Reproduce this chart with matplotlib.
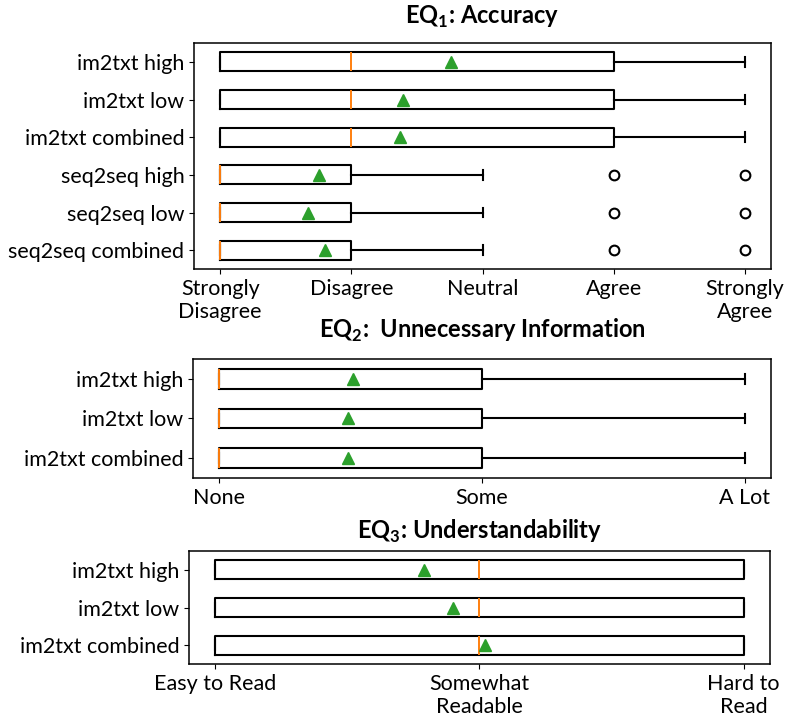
import matplotlib
matplotlib.use('Agg')
import matplotlib.pyplot as plt

plt.rcParams['font.family'] = ['Lato', 'DejaVu Sans']
plt.rcParams['mathtext.fontset'] = 'custom'
plt.rcParams['mathtext.rm'] = 'Lato'
plt.rcParams['mathtext.bf'] = 'Lato:bold'

# EQ1 - accuracy (rows top to bottom)
eq1_rows = ['im2txt high', 'im2txt low', 'im2txt combined',
            'seq2seq high', 'seq2seq low', 'seq2seq combined']
eq1_q1 = [1, 1, 1, 1, 1, 1]
eq1_med = [2, 2, 2, 1, 1, 1]
eq1_q3 = [4, 4, 4, 2, 2, 2]
eq1_lo = [1, 1, 1, 1, 1, 1]
eq1_hi = [5, 5, 5, 3, 3, 3]
eq1_mean = [2.76, 2.39, 2.37, 1.75, 1.67, 1.80]
eq1_fliers = [[], [], [], [4, 5], [4, 5], [4, 5]]
eq1_ticks = ['Strongly\nDisagree', 'Disagree', 'Neutral', 'Agree', 'Strongly\nAgree']

# EQ2 - unnecessary information
eq2_rows = ['im2txt high', 'im2txt low', 'im2txt combined']
eq2_q1 = [1, 1, 1]
eq2_med = [1, 1, 1]
eq2_q3 = [2, 2, 2]
eq2_lo = [1, 1, 1]
eq2_hi = [3, 3, 3]
eq2_mean = [1.51, 1.49, 1.49]
eq2_ticks = ['None', 'Some', 'A Lot']

# EQ3 - understandability
eq3_rows = ['im2txt high', 'im2txt low', 'im2txt combined']
eq3_q1 = [1, 1, 1]
eq3_med = [2, 2, 2]
eq3_q3 = [3, 3, 3]
eq3_lo = [1, 1, 1]
eq3_hi = [3, 3, 3]
eq3_mean = [1.79, 1.90, 2.02]
eq3_ticks = ['Easy to Read', 'Somewhat\nReadable', 'Hard to\nRead']


def make_stats(rows, q1, med, q3, lo, hi, mean, fliers=None):
    stats = []
    for i in range(len(rows)):
        stats.append({'label': rows[i], 'q1': q1[i], 'med': med[i], 'q3': q3[i],
                      'whislo': lo[i], 'whishi': hi[i], 'mean': mean[i],
                      'fliers': fliers[i] if fliers else []})
    # bottom row first so the first row ends on top
    return stats[::-1]


def draw(ax, stats, ticks, title, pad):
    ax.bxp(stats, vert=False, showmeans=True, widths=0.5,
           meanprops=dict(marker='^', markerfacecolor='#2ca02c',
                          markeredgecolor='#2ca02c', markersize=9),
           medianprops=dict(color='#ff7f0e', linewidth=1.4),
           boxprops=dict(linewidth=1.5), whiskerprops=dict(linewidth=1.5),
           capprops=dict(linewidth=1.5),
           flierprops=dict(marker='o', markersize=7, markeredgewidth=1.5))
    ax.set_xticks(range(1, len(ticks) + 1))
    ax.set_xticklabels(ticks)
    ax.set_xlim(1 - 0.05 * (len(ticks) - 1), len(ticks) + 0.05 * (len(ticks) - 1))
    ax.tick_params(labelsize=15.5)
    for s in ax.spines.values():
        s.set_linewidth(1.1)
    ax.set_title(title, fontsize=17, fontweight='bold', pad=pad)


fig = plt.figure(figsize=(7.89, 7.22), dpi=100)
ax1 = fig.add_axes([0.2459, 0.6274, 0.7313, 0.3130])
ax2 = fig.add_axes([0.2446, 0.3380, 0.7326, 0.1648])
ax3 = fig.add_axes([0.2395, 0.0803, 0.7364, 0.1565])

draw(ax1, make_stats(eq1_rows, eq1_q1, eq1_med, eq1_q3, eq1_lo, eq1_hi, eq1_mean, eq1_fliers),
     eq1_ticks, r'EQ$_\mathbf{1}$: Accuracy', 14)
draw(ax2, make_stats(eq2_rows, eq2_q1, eq2_med, eq2_q3, eq2_lo, eq2_hi, eq2_mean),
     eq2_ticks, r'EQ$_\mathbf{2}$:  Unnecessary Information', 15)
draw(ax3, make_stats(eq3_rows, eq3_q1, eq3_med, eq3_q3, eq3_lo, eq3_hi, eq3_mean),
     eq3_ticks, r'EQ$_\mathbf{3}$: Understandability', 9)

fig.savefig('out.png', dpi=100)
